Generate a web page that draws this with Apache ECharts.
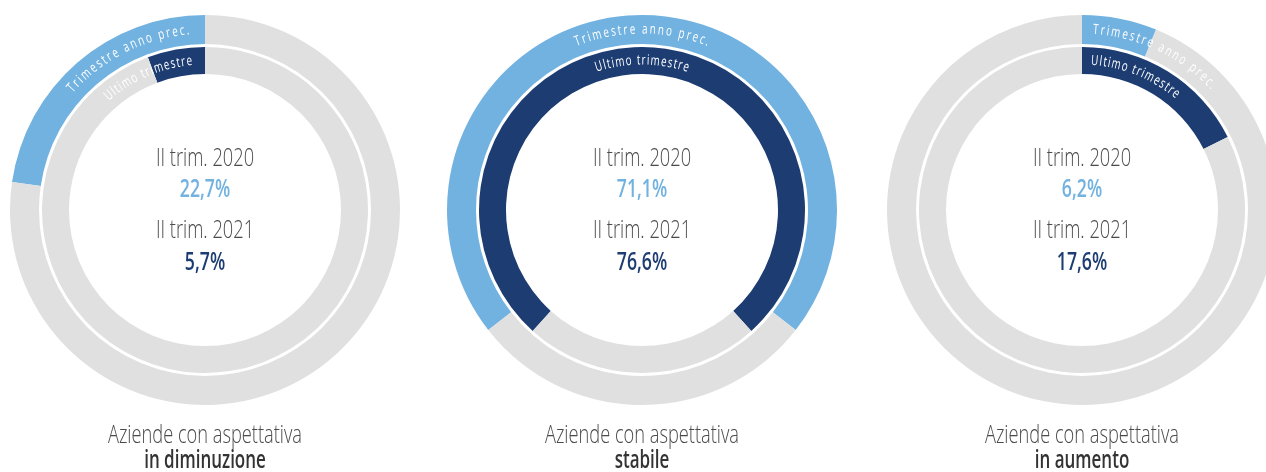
<!DOCTYPE html>
<html>
<head>
<meta charset="utf-8">
<script src="https://cdn.jsdelivr.net/npm/echarts@6/dist/echarts.min.js"></script>
<style>
  html, body { margin: 0; padding: 0; background: #fff; }
  #chart { width: 1266px; height: 472px; }
</style>
</head>
<body>
<div id="chart"></div>
<script>
// data
const groups = ['in diminuzione', 'stabile', 'in aumento']
const prevQuarter = [22.7, 71.1, 6.2]   // II trim. 2020
const lastQuarter = [5.7, 76.6, 17.6]   // II trim. 2021
const periodLabels = ['II trim. 2020', 'II trim. 2021']
const ringLabels = ['Trimestre anno prec.', 'Ultimo trimestre']
const titlePrefix = 'Aziende con aspettativa'

// layout
const CENTERS_X = [205, 642, 1082]
const CY = 210
const OUTER = [166, 195]
const INNER = [136, 163]
const LABEL_ALIGN = ['end', 'center', 'start']
const LABEL_ANCHOR = [95, 90, 86.5]
const LABEL_LEN = [137, 95]

const LIGHT = '#72B2E0'
const DARK = '#1C3C72'
const GREY = '#E0E0E0'
const TEXT = '#4A4A4A'
const FONT = "'Open Sans', sans-serif"
const CONDENSE = 0.73
const CONDENSE_BOLD = 0.68

const fmt = v => v.toFixed(1).replace('.', ',') + '%'

const measureCtx = document.createElement('canvas').getContext('2d')

function arcText(cx, r, text, anchorDeg, align, targetLen) {
  const size = 14
  const squeeze = 0.7
  measureCtx.font = `500 ${size}px ${FONT}`
  const chars = [...text]
  const widths = chars.map(c => measureCtx.measureText(c).width * squeeze)
  const natural = widths.reduce((a, b) => a + b, 0)
  const spacing = (targetLen - natural) / (chars.length - 1)
  const total = natural + spacing * (chars.length - 1)
  const s0 = align === 'end' ? -total : align === 'center' ? -total / 2 : 0
  const anchor = anchorDeg * Math.PI / 180
  let s = s0
  return chars.map((c, i) => {
    const mid = s + widths[i] / 2
    s += widths[i] + spacing
    const th = anchor - mid / r
    return {
      type: 'text',
      x: cx + r * Math.cos(th),
      y: CY - r * Math.sin(th),
      rotation: th - Math.PI / 2,
      scaleX: squeeze,
      silent: true,
      z: 10,
      style: {
        text: c, fill: '#fff', fontSize: size, fontWeight: 500, fontFamily: FONT,
        align: 'center', verticalAlign: 'middle',
      },
    }
  })
}

function label(x, y, text, size, weight, color) {
  return {
    type: 'text', x, y, scaleX: weight >= 600 ? CONDENSE_BOLD : CONDENSE, silent: true, z: 10,
    style: {
      text, fill: color, fontSize: size, fontWeight: weight, fontFamily: FONT,
      align: 'center', verticalAlign: 'middle',
    },
  }
}

function ring(cx, radius, v, color, i) {
  const clockwise = i !== 0
  const startAngle = i === 1 ? 90 + v * 3.6 / 2 : 90
  return {
    type: 'pie',
    center: [cx, CY],
    radius,
    startAngle,
    clockwise,
    silent: true,
    animation: false,
    label: { show: false },
    labelLine: { show: false },
    emphasis: { disabled: true },
    itemStyle: { borderWidth: 0 },
    data: [
      { value: v, itemStyle: { color } },
      { value: 100 - v, itemStyle: { color: GREY } },
    ],
  }
}

const series = []
const graphics = []
groups.forEach((g, i) => {
  const cx = CENTERS_X[i]
  series.push(ring(cx, OUTER, prevQuarter[i], LIGHT, i))
  series.push(ring(cx, INNER, lastQuarter[i], DARK, i))
  graphics.push(...arcText(cx, (OUTER[0] + OUTER[1]) / 2, ringLabels[0], LABEL_ANCHOR[i], LABEL_ALIGN[i], LABEL_LEN[0]))
  graphics.push(...arcText(cx, (INNER[0] + INNER[1]) / 2, ringLabels[1], LABEL_ANCHOR[i], LABEL_ALIGN[i], LABEL_LEN[1]))
  graphics.push(label(cx, CY - 51, periodLabels[0], 25, 300, TEXT))
  graphics.push(label(cx, CY - 20, fmt(prevQuarter[i]), 26, 600, LIGHT))
  graphics.push(label(cx, CY + 21, periodLabels[1], 25, 300, TEXT))
  graphics.push(label(cx, CY + 53, fmt(lastQuarter[i]), 26, 600, DARK))
  graphics.push(label(cx, 436, titlePrefix, 25, 300, TEXT))
  graphics.push(label(cx, 461, g, 25, 600, '#333'))
})

const chart = echarts.init(document.getElementById('chart'), null, { renderer: 'canvas' })
chart.setOption({
  animation: false,
  backgroundColor: '#fff',
  series,
  graphic: { elements: graphics },
})
</script>
</body>
</html>
